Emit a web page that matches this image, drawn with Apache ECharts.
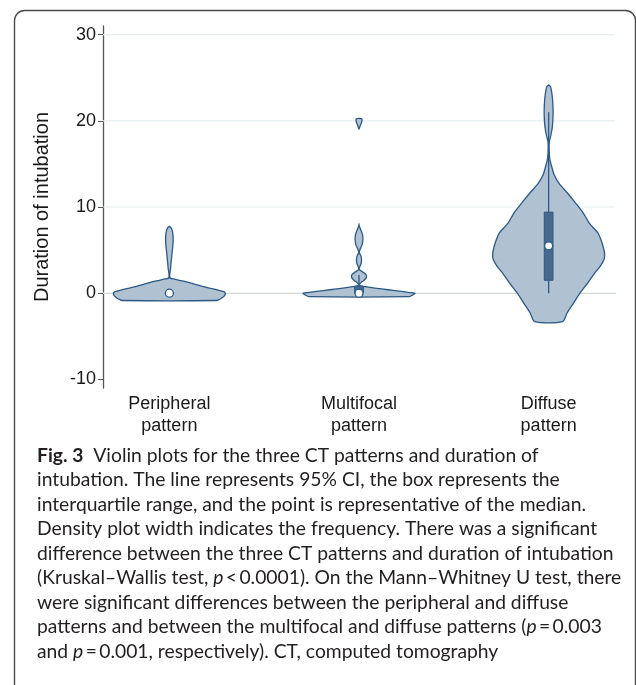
<!DOCTYPE html>
<html>
<head>
<meta charset="utf-8">
<script src="https://cdn.jsdelivr.net/npm/echarts@6/dist/echarts.min.js"></script>
<style>
html,body{margin:0;padding:0;background:#fff;}
#chart{width:636px;height:685px;}
</style>
</head>
<body>
<div id="chart"></div>
<script>
// ---------- data ----------
const categories = ['Peripheral\npattern', 'Multifocal\npattern', 'Diffuse\npattern'];
const yTicks = [-10, 0, 10, 20, 30];
const gridValues = [0, 10, 20, 30];

// violin outlines: [value, relative density]
const peripheralMain = [[-0.85,0.84],[-0.7,0.9],[-0.5,0.95],[-0.25,0.99],[0,1.0],[0.15,0.98],[0.3,0.9],[0.5,0.78],[0.7,0.65],[0.9,0.53],[1.1,0.42],[1.3,0.31],[1.5,0.18],[1.65,0.08],[1.75,0.015],[2.0,0.006],[2.3,0.008],[2.8,0.02],[3.5,0.03],[4.5,0.045],[5.5,0.062],[6.3,0.068],[7.0,0.06],[7.4,0.045],[7.65,0.022],[7.75,0.0]];
const multifocalMain = [[-0.4,0.9],[-0.2,0.96],[0,1.0],[0.1,0.88],[0.3,0.64],[0.5,0.4],[0.7,0.17],[0.85,0.03],[1.0,0.01],[1.2,0.03],[1.5,0.09],[1.8,0.13],[2.0,0.134],[2.2,0.12],[2.45,0.07],[2.7,0.012],[2.9,0.005],[3.1,0.015],[3.5,0.04],[3.9,0.045],[4.3,0.035],[4.6,0.012],[4.8,0.004],[5.1,0.02],[5.6,0.055],[6.2,0.07],[6.8,0.062],[7.3,0.035],[7.7,0.01],[7.95,0.0]];
const multifocalTop = [[19.05,0.002],[19.4,0.02],[19.8,0.045],[20.1,0.055],[20.25,0.04]];
const diffuseMain = [[-3.3,0.25],[-2.3,0.33],[-1.2,0.44],[0,0.56],[1.2,0.70],[2.3,0.82],[3.1,0.92],[3.9,0.99],[4.6,1.0],[5.5,0.97],[6.3,0.93],[7.0,0.88],[8.1,0.73],[9.3,0.62],[10.4,0.49],[11.6,0.34],[12.7,0.19],[13.7,0.10],[14.7,0.054],[15.4,0.025],[16.2,0.012],[17.0,0.008],[17.6,0.012],[18.2,0.035],[19.0,0.06],[20.0,0.075],[21.2,0.08],[22.5,0.07],[23.5,0.05],[24.0,0.03],[24.15,0.0]];
const violinPieces = [[peripheralMain], [multifocalMain, multifocalTop], [diffuseMain]];

const medians = [0, 0, 5.5];
const q1 = [0, 0, 1.5];
const q3 = [0, 0.8, 9.4];
const ciLow = [0, 0, 0];
const ciHigh = [0, 2.1, 21.0];

const captionLines = [
  '{b|Fig. 3}  Violin plots for the three CT patterns and duration of',
  'intubation. The line represents 95% CI, the box represents the',
  'interquartile range, and the point is representative of the median.',
  'Density plot width indicates the frequency. There was a significant',
  'difference between the three CT patterns and duration of intubation',
  '(Kruskal\u2013Wallis test, {i|p}\u2009<\u20090.0001). On the Mann\u2013Whitney U test, there',
  'were significant differences between the peripheral and diffuse',
  'patterns and between the multifocal and diffuse patterns ({i|p}\u2009=\u20090.003',
  'and {i|p}\u2009=\u20090.001, respectively). CT, computed tomography'
];

// ---------- style ----------
const FILL = '#b0c1d2';
const STROKE = '#2c5985';
const BOX = '#46698d';
const HALF = 0.295;     // max half width in x units
const BOXHALF = 0.023;
const CAP_FS = 19.3;

const chart = echarts.init(document.getElementById('chart'), null, {renderer: 'canvas'});

const violinData = [];
violinPieces.forEach((pcs, g) => pcs.forEach((pc, p) => violinData.push([g + 1, pc[0][0], g, p])));

const boxData = medians.map((m, i) => [i + 1, m, q1[i], q3[i], ciLow[i], ciHigh[i]]);
const medianData = medians.map((m, i) => [i + 1, m]);
const gridData = gridValues.map(v => [1, v]);

const captionGraphics = captionLines.map((t, i) => ({
  type: 'text',
  left: 37,
  top: 446 + i * 24.5,
  style: {
    text: t,
    font: CAP_FS + 'px Lato',
    fill: '#231f20',
    rich: {
      b: {fontWeight: 'bold', fontSize: CAP_FS, fontFamily: 'Lato', fill: '#231f20'},
      i: {fontStyle: 'italic', fontSize: CAP_FS, fontFamily: 'Lato', fill: '#231f20'}
    }
  }
}));

chart.setOption({
  animation: false,
  grid: {left: 103, right: 21, top: 26, bottom: 297},
  xAxis: {
    type: 'value', min: 0.65, max: 3.35,
    axisLine: {show: true, lineStyle: {color: '#9a9a9a', width: 1}},
    axisTick: {show: false},
    splitLine: {show: false},
    axisLabel: {
      customValues: [1, 2, 3],
      formatter: v => categories[Math.round(v) - 1] || '',
      fontFamily: 'Liberation Sans', fontSize: 18, color: '#1a1a1a', lineHeight: 22, margin: 5
    }
  },
  yAxis: {
    type: 'value', min: -11, max: 31,
    name: 'Duration of intubation', nameLocation: 'middle', nameGap: 51,
    nameTextStyle: {fontFamily: 'Liberation Sans', fontSize: 20, color: '#1a1a1a'},
    axisLine: {show: true, lineStyle: {color: '#555', width: 1.3}},
    axisTick: {show: true, customValues: yTicks, length: 5, lineStyle: {color: '#555', width: 1}},
    axisLabel: {customValues: yTicks, fontFamily: 'Liberation Sans', fontSize: 18, color: '#1a1a1a', margin: 7},
    splitLine: {show: false}
  },
  graphic: [{
    type: 'rect', shape: {x: 14.5, y: 10.5, width: 621, height: 720, r: 10},
    style: {fill: 'none', stroke: '#4a4a4a', lineWidth: 1.4}, silent: true, z: -1
  }].concat(captionGraphics),
  series: [
    {
      type: 'custom', z: 1, silent: true,
      data: gridData,
      encode: {x: 0, y: 1},
      renderItem: function (params, api) {
        const p = api.coord([0.65, api.value(1)]);
        const q = api.coord([3.35, api.value(1)]);
        return {type: 'line', shape: {x1: p[0], y1: p[1], x2: q[0], y2: q[1]},
          style: {stroke: '#e6eef0', lineWidth: 1.2}};
      }
    },
    {
      type: 'custom', z: 2, silent: true,
      data: violinData,
      encode: {x: 0, y: 1},
      renderItem: function (params, api) {
        const g = api.value(2), p = api.value(3);
        const pc = violinPieces[g][p];
        const c = g + 1;
        const left = pc.map(d => api.coord([c - d[1] * HALF, d[0]]));
        const right = pc.slice().reverse().map(d => api.coord([c + d[1] * HALF, d[0]]));
        return {
          type: 'polygon',
          shape: {points: left.concat(right), smooth: 0.25},
          style: {fill: FILL, stroke: STROKE, lineWidth: 1.3}
        };
      }
    },
    {
      type: 'custom', z: 3, silent: true,
      data: boxData,
      encode: {x: 0, y: 1},
      renderItem: function (params, api) {
        const x = api.value(0);
        const children = [];
        const lo = api.value(4), hi = api.value(5), a = api.value(2), b = api.value(3);
        if (hi > lo) {
          const p1 = api.coord([x, lo]), p2 = api.coord([x, hi]);
          children.push({type: 'line', shape: {x1: p1[0], y1: p1[1], x2: p2[0], y2: p2[1]},
            style: {stroke: STROKE, lineWidth: 1.3}});
        }
        if (b > a) {
          const tl = api.coord([x - BOXHALF, b]), br = api.coord([x + BOXHALF, a]);
          children.push({type: 'rect', shape: {x: tl[0], y: tl[1], width: br[0] - tl[0], height: br[1] - tl[1]},
            style: {fill: BOX, stroke: STROKE, lineWidth: 1}});
        }
        return {type: 'group', children: children};
      }
    },
    {
      type: 'scatter', z: 4, silent: true,
      data: medianData,
      symbol: 'circle', symbolSize: 8,
      itemStyle: {color: '#ffffff', borderColor: STROKE, borderWidth: 1.3, opacity: 1}
    }
  ]
});
</script>
</body>
</html>
